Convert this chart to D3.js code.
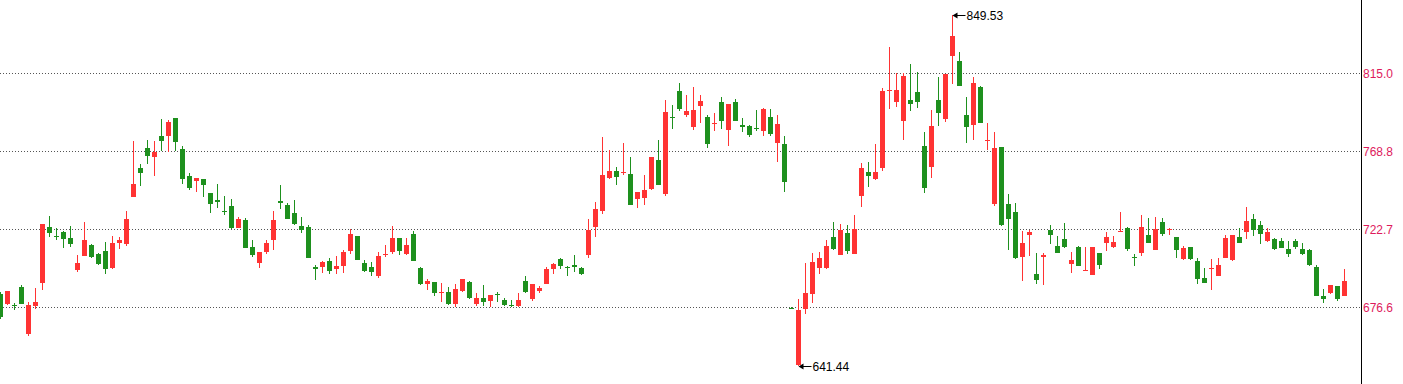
<!DOCTYPE html>
<html><head><meta charset="utf-8">
<script src="https://cdn.jsdelivr.net/npm/d3@7"></script>
<style>html,body{margin:0;padding:0;background:#fff;overflow:hidden}svg{display:block}</style>
</head><body>
<svg id="chart" width="1403" height="384"></svg>
<script>
const openV = [684.3,678.6,678.0,688.4,660.6,677.2,691.0,723.9,718.6,721.0,
717.4,698.5,706.8,713.3,708.0,709.7,699.7,714.5,713.9,741.7,
758.8,770.6,765.3,777.7,777.7,788.4,770.1,754.1,751.1,752.3,
744.0,739.9,733.6,736.3,723.3,728.1,712.1,702.6,709.1,716.2,
739.3,736.9,732.2,724.5,723.9,700.3,700.3,703.8,699.1,700.9,
709.7,718.6,702.6,700.3,694.9,707.5,709.1,717.4,708.0,719.8,
699.7,690.2,691.4,684.9,685.5,678.4,686.1,691.4,678.4,681.9,
680.2,684.3,680.8,677.8,677.2,692.0,681.3,686.1,690.2,699.1,
705.0,700.3,701.4,699.7,707.4,723.9,733.4,752.9,757.0,755.9,
755.3,740.5,741.1,746.4,763.5,743.4,789.0,804.4,790.2,783.1,
795.5,789.0,784.8,797.9,781.3,797.9,784.3,783.7,782.5,780.7,
789.0,773.6,773.0,676.3,642.3,675.4,684.3,699.7,699.7,718.0,
707.4,720.4,708.0,742.3,756.5,752.3,758.8,804.4,797.9,786.6,
799.0,803.8,771.8,759.4,799.0,787.8,825.1,822.1,790.2,784.3,
806.7,775.1,737.5,771.2,737.5,732.8,706.2,719.2,696.1,706.2,
722.2,712.7,716.8,702.0,712.1,697.9,695.5,708.5,714.5,712.1,
721.0,723.3,706.2,708.5,719.2,710.3,726.9,722.2,718.0,705.0,
712.1,703.8,693.8,699.1,694.9,705.6,704.4,718.0,721.0,728.7,
725.1,715.6,716.8,715.6,710.9,715.6,710.9,710.3,700.3,683.1,
684.9,689.0,683.1];
const closeV = [670.9,686.1,677.6,678.6,677.8,679.6,725.7,720.6,718.2,717.0,
713.9,702.6,716.2,706.2,702.0,699.1,714.5,716.2,728.7,749.4,
755.9,765.9,768.3,774.8,786.0,774.2,752.3,747.0,752.9,748.8,
737.5,738.7,733.2,723.3,728.7,711.5,707.4,709.1,714.5,728.1,
738.1,728.7,725.7,722.2,705.6,699.1,703.2,697.9,700.9,709.1,
719.8,704.4,697.9,697.3,706.8,708.0,717.4,709.7,713.3,703.8,
690.2,692.0,684.9,685.5,678.4,687.3,693.2,681.9,681.9,679.6,
683.7,683.7,677.8,677.2,680.8,685.5,690.2,687.8,699.1,702.0,
700.9,699.7,700.3,696.1,722.2,734.6,754.7,757.0,753.5,756.5,
736.9,744.6,745.8,765.3,748.8,791.9,788.4,793.7,792.5,793.1,
798.4,773.0,785.4,786.6,796.7,786.6,783.1,778.3,781.9,793.7,
778.9,784.8,750.5,675.9,674.8,684.9,703.2,705.6,712.7,710.9,
722.2,709.7,722.7,758.8,754.1,756.5,804.4,805.0,805.0,813.2,
796.7,797.9,747.0,783.7,791.4,814.4,836.9,807.3,783.1,809.1,
785.4,775.4,770.6,725.1,728.7,705.6,714.5,721.0,692.6,707.4,
719.2,708.5,712.1,704.4,700.9,698.5,712.1,701.4,718.0,715.0,
721.6,710.9,705.6,723.9,714.5,722.7,719.8,722.7,710.3,711.5,
705.0,693.2,690.8,699.7,701.4,717.4,719.2,714.5,727.5,722.2,
719.8,721.0,710.9,711.5,708.0,712.1,708.0,701.4,683.1,681.3,
689.6,681.3,692.0];
const highV = [685.7,686.1,679.0,689.6,679.6,687.8,725.7,730.4,723.3,721.6,
724.5,707.4,726.9,713.9,708.5,715.0,718.6,718.0,733.4,774.8,
761.2,775.4,774.8,787.8,787.2,788.4,771.8,755.9,752.9,752.3,
744.0,749.4,742.3,740.5,729.8,729.2,716.2,709.1,716.2,733.4,
748.8,738.1,739.9,729.8,725.1,701.4,703.8,705.6,706.8,710.3,
722.7,718.6,704.4,703.2,709.1,713.3,724.5,717.4,717.4,721.6,
700.3,693.2,691.4,690.8,688.4,690.2,693.2,692.0,684.9,689.6,
683.7,685.5,681.9,680.8,684.9,694.9,690.2,689.0,700.3,702.6,
705.6,700.9,707.4,700.3,728.7,738.7,777.2,769.5,759.4,773.6,
765.3,744.6,754.7,765.3,775.4,799.0,796.1,809.1,802.0,806.7,
802.0,790.2,791.4,800.8,796.7,799.6,788.4,784.3,793.1,794.3,
793.7,790.2,777.7,676.5,681.3,702.6,708.5,709.1,716.2,726.9,
725.7,725.1,731.0,761.8,762.4,773.0,806.1,830.4,815.0,815.0,
820.3,815.6,780.1,793.1,812.6,814.4,849.53,827.4,800.8,812.6,
807.3,785.4,780.1,771.2,743.4,738.1,721.6,722.2,708.5,708.5,
725.1,718.6,726.3,709.1,712.7,712.1,712.1,708.5,721.0,718.6,
732.8,723.9,708.0,731.0,729.2,729.8,729.2,723.3,718.0,712.7,
712.1,705.6,699.7,705.0,705.6,719.2,719.2,723.3,735.8,731.6,
727.5,723.3,717.4,717.4,715.6,716.8,714.5,710.9,701.4,687.3,
689.6,689.0,699.1];
const lowV = [669.5,677.8,675.0,678.6,659.6,675.6,686.8,718.2,716.2,711.5,
712.1,697.3,706.8,705.6,701.4,696.1,699.1,710.9,712.7,741.7,
748.2,761.2,754.1,768.9,768.3,768.9,749.4,745.8,744.6,741.7,
732.2,735.2,731.0,722.7,723.3,711.5,706.2,699.7,708.0,710.3,
734.6,728.7,725.1,720.4,705.6,692.6,696.7,696.1,696.1,696.7,
708.0,704.4,697.3,694.9,693.8,706.2,708.0,707.4,707.4,703.8,
689.6,686.7,683.1,679.6,677.8,676.6,685.5,681.3,677.2,677.2,
676.6,679.6,677.2,676.6,676.6,684.9,680.2,684.9,690.2,696.1,
699.1,694.9,697.3,695.5,705.6,718.0,731.6,752.3,748.8,754.7,
736.9,735.2,736.9,745.8,748.8,742.3,781.9,792.5,789.0,781.3,
785.4,770.6,780.7,781.9,771.8,786.6,780.1,777.2,780.7,777.7,
777.7,762.4,744.6,675.6,641.44,672.5,679.0,696.1,699.1,710.3,
707.4,708.0,708.0,735.8,747.6,751.7,757.0,793.7,794.9,775.4,
792.5,794.3,744.0,752.9,783.7,786.0,808.5,807.3,773.6,775.4,
785.4,769.5,736.3,724.5,710.3,705.0,692.0,706.8,690.2,689.6,
713.9,708.5,711.5,696.7,700.9,697.9,695.5,699.1,709.7,711.5,
721.0,709.7,700.9,706.8,714.5,710.3,718.6,719.2,705.6,704.4,
704.4,690.2,690.8,686.7,694.9,705.6,703.8,714.5,716.8,718.6,
713.9,715.0,710.3,711.5,706.2,710.9,707.4,700.9,683.1,679.0,
684.3,680.2,683.1];
const yTicks = [676.6, 722.7, 768.8, 815.0];

const W = 1403, H = 384, axisX = 1361;
const n = openV.length;
const data = d3.range(n).map(i => ({i, o: openV[i], c: closeV[i], h: highV[i], l: lowV[i]}));

const svg = d3.select('#chart');
const x = d3.scaleLinear().domain([0, n - 1]).range([0, 7 * (n - 1)]);
const y = d3.scaleLinear().domain([676.6, 815.0]).range([307, 73]);
const UP = '#ff3333', DOWN = '#1e901e';

// gridlines
svg.append('g').selectAll('line').data(yTicks).join('line')
  .attr('x1', 0).attr('x2', axisX)
  .attr('y1', d => Math.round(y(d)) + 0.5).attr('y2', d => Math.round(y(d)) + 0.5)
  .attr('stroke', '#555').attr('stroke-dasharray', '1,2');

// right axis
const axis = d3.axisRight(y).tickValues(yTicks).tickFormat(d3.format('.1f')).tickSize(0).tickPadding(2);
const ag = svg.append('g').attr('transform', `translate(${axisX},0.5)`).call(axis);
ag.select('.domain').remove();
ag.selectAll('text').attr('fill', '#de1a5c').style('font-family', 'Liberation Sans, Arial, sans-serif').style('font-size', '12px');
svg.append('line').attr('x1', axisX + 0.5).attr('x2', axisX + 0.5).attr('y1', 0).attr('y2', H)
  .attr('stroke', '#000').attr('stroke-width', 1);

// candles
const g = svg.append('g');
const col = d => d.c >= d.o ? UP : DOWN;
g.selectAll('rect.wick').data(data).join('rect').attr('class', 'wick')
  .attr('x', d => Math.round(x(d.i)))
  .attr('width', 1)
  .attr('y', d => Math.round(y(d.h)))
  .attr('height', d => Math.max(1, Math.round(y(d.l)) - Math.round(y(d.h))))
  .attr('fill', col);
g.selectAll('rect.body').data(data).join('rect').attr('class', 'body')
  .attr('x', d => Math.round(x(d.i)) - 2)
  .attr('width', 5)
  .attr('y', d => Math.round(y(Math.max(d.o, d.c))))
  .attr('height', d => Math.max(1, Math.round(y(Math.min(d.o, d.c))) - Math.round(y(Math.max(d.o, d.c)))))
  .attr('fill', col);

// max/min annotations
const fmt = d3.format('.2f');
function annotate(i, v) {
  const cx = Math.round(x(i)) + 0.5, cy = Math.round(y(v)) + 0.5;
  const a = svg.append('g');
  a.append('line').attr('x1', cx + 2).attr('x2', cx + 13).attr('y1', cy).attr('y2', cy)
    .attr('stroke', '#000').attr('stroke-width', 1);
  a.append('path').attr('d', `M${cx},${cy}L${cx + 5},${cy - 3}L${cx + 5},${cy + 3}Z`).attr('fill', '#000');
  a.append('text').attr('x', cx + 14).attr('y', cy).attr('dy', '0.35em')
    .style('font-family', 'Liberation Sans, Arial, sans-serif').style('font-size', '12px')
    .attr('fill', '#000').text(fmt(v));
}
const iMax = d3.maxIndex(highV), iMin = d3.minIndex(lowV);
annotate(iMax, highV[iMax]);
annotate(iMin, lowV[iMin]);
</script>
</body></html>
